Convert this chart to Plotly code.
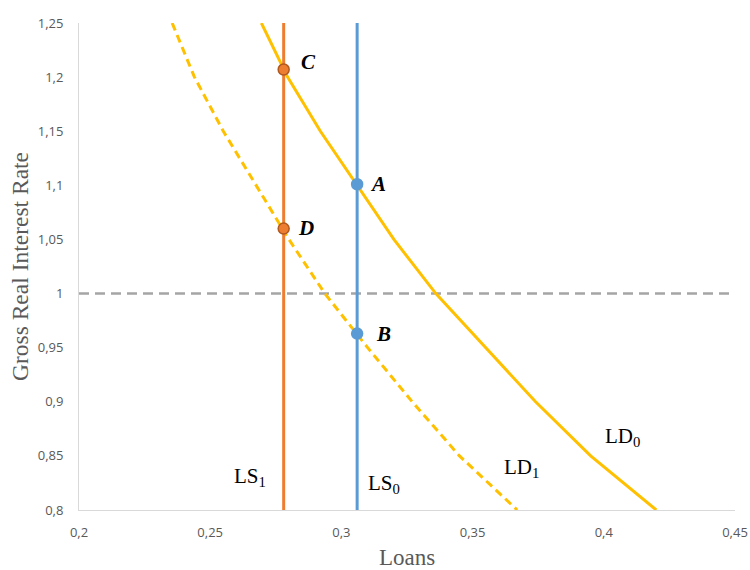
import plotly.graph_objects as go

# ---- data ----
rate_levels = [1.25, 1.20, 1.15, 1.10, 1.05, 1.00, 0.95, 0.90, 0.85, 0.80]
ld0_loans = [0.2695, 0.2795, 0.2920, 0.3060, 0.3200, 0.3360, 0.3550, 0.3740, 0.3950, 0.4200]
ld1_loans = [0.2355, 0.2440, 0.2550, 0.2675, 0.2800, 0.2937, 0.3100, 0.3270, 0.3450, 0.3670]

ls_rates = [0.80, 1.25]
ls0_loans = [0.306, 0.306]
ls1_loans = [0.278, 0.278]

ref_loans = [0.20, 0.45]
ref_rates = [1.0, 1.0]

point_names = ["C", "D", "A", "B"]
point_loans = [0.278, 0.278, 0.306, 0.306]
point_rates = [1.207, 1.060, 1.101, 0.963]

x_ticks = [0.20, 0.25, 0.30, 0.35, 0.40, 0.45]
x_ticktext = ["0,2", "0,25", "0,3", "0,35", "0,4", "0,45"]
y_ticks = [0.80, 0.85, 0.90, 0.95, 1.00, 1.05, 1.10, 1.15, 1.20, 1.25]
y_ticktext = ["0,8", "0,85", "0,9", "0,95", "1", "1,05", "1,1", "1,15", "1,2", "1,25"]

curve_labels = ["LS<sub>1</sub>", "LS<sub>0</sub>", "LD<sub>1</sub>", "LD<sub>0</sub>"]
curve_label_x = [0.2651, 0.3161, 0.3687, 0.4072]
curve_label_y = [0.8304, 0.8240, 0.8387, 0.8677]

ORANGE = "#ED7D31"
BLUE = "#5B9BD5"
YELLOW = "#FFC000"
GRAY = "#A5A5A5"
TEXT_GRAY = "#595959"

fig = go.Figure()

fig.add_trace(go.Scatter(x=ref_loans, y=ref_rates, mode="lines",
                         line=dict(color=GRAY, width=2.5, dash="10px,6px"),
                         hoverinfo="skip"))
fig.add_trace(go.Scatter(x=ld1_loans, y=rate_levels, mode="lines",
                         line=dict(color=YELLOW, width=3, dash="8px,5px")))
fig.add_trace(go.Scatter(x=ld0_loans, y=rate_levels, mode="lines",
                         line=dict(color=YELLOW, width=3)))
fig.add_trace(go.Scatter(x=ls1_loans, y=ls_rates, mode="lines",
                         line=dict(color=ORANGE, width=3)))
fig.add_trace(go.Scatter(x=ls0_loans, y=ls_rates, mode="lines",
                         line=dict(color=BLUE, width=3)))

marker_colors = [ORANGE, ORANGE, BLUE, BLUE]
marker_lines = ["#B0581F", "#B0581F", BLUE, BLUE]
fig.add_trace(go.Scatter(x=point_loans, y=point_rates, mode="markers",
                         marker=dict(size=11, color=marker_colors,
                                     line=dict(color=marker_lines, width=1.5))))

# point letters
letter_shift = [(25, 8), (22, 1), (21, 0), (26, 0)]
for name, xv, yv, (dx, dy) in zip(point_names, point_loans, point_rates, letter_shift):
    fig.add_annotation(x=xv, y=yv, text=f"<b><i>{name}</i></b>", showarrow=False,
                       xshift=dx, yshift=dy,
                       font=dict(family="Liberation Serif", size=21, color="black"))

for t, xv, yv in zip(curve_labels, curve_label_x, curve_label_y):
    fig.add_annotation(x=xv, y=yv, text=t, showarrow=False,
                       font=dict(family="Liberation Serif", size=21, color="black"))

fig.update_layout(
    width=750, height=570,
    margin=dict(l=79, r=15, t=23, b=60, autoexpand=False),
    paper_bgcolor="white", plot_bgcolor="white",
    showlegend=False,
    xaxis=dict(range=[0.2, 0.45], tickvals=x_ticks, ticktext=x_ticktext,
               showgrid=False, zeroline=False, showline=True, linecolor="#D9D9D9",
               linewidth=1, ticks="", ticklabelstandoff=10, automargin=False,
               tickfont=dict(family="Open Sans", size=13, color=TEXT_GRAY),
               title=dict(text="Loans", standoff=12,
                          font=dict(family="Liberation Serif", size=23, color=TEXT_GRAY))),
    yaxis=dict(range=[0.8, 1.25], tickvals=y_ticks, ticktext=y_ticktext,
               showgrid=False, zeroline=False, showline=True, linecolor="#D9D9D9",
               linewidth=1, ticks="", ticklabelstandoff=12, automargin=False,
               tickfont=dict(family="Open Sans", size=13, color=TEXT_GRAY),
               title=dict(text="Gross Real Interest Rate", standoff=2,
                          font=dict(family="Liberation Serif", size=23.5, color=TEXT_GRAY))),
)

fig.write_html("out.html",
               config={"displayModeBar": False},
               post_script="document.body.style.margin='0';document.body.style.overflow='hidden';")
